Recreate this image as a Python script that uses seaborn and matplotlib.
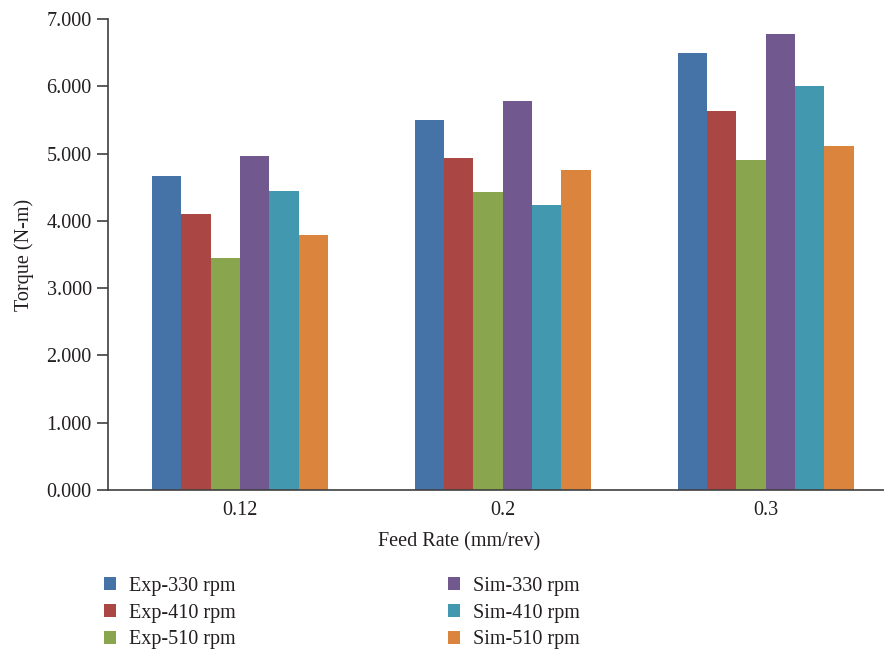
import pandas as pd
import matplotlib.pyplot as plt
import matplotlib.ticker as mticker
import seaborn as sns

feed_rates = ["0.12", "0.2", "0.3"]
series = ["Exp-330 rpm", "Exp-410 rpm", "Exp-510 rpm",
          "Sim-330 rpm", "Sim-410 rpm", "Sim-510 rpm"]
exp_330 = [4.67, 5.50, 6.49]
exp_410 = [4.10, 4.93, 5.63]
exp_510 = [3.45, 4.43, 4.90]
sim_330 = [4.96, 5.78, 6.78]
sim_410 = [4.44, 4.24, 6.00]
sim_510 = [3.79, 4.76, 5.11]
colors = ["#4572A7", "#AA4643", "#89A54E", "#71588F", "#4198AF", "#DB843D"]

values = [exp_330, exp_410, exp_510, sim_330, sim_410, sim_510]
rows = []
for name, vals in zip(series, values):
    for fr, v in zip(feed_rates, vals):
        rows.append({"feed": fr, "series": name, "torque": v})
df = pd.DataFrame(rows)

sns.set_theme(style="white")
plt.rcParams['font.family'] = ['Liberation Serif', 'DejaVu Serif']
text_col = "#231f20"

fig = plt.figure(figsize=(8.84, 6.54), dpi=100)
ax = fig.add_axes([0.1227, 0.2508, 0.892, 0.7201])
sns.barplot(data=df, x="feed", y="torque", hue="series", order=feed_rates,
            hue_order=series, palette=colors, width=0.67, gap=0,
            saturation=1, linewidth=0, ax=ax, legend=True)
ax.set_xlim(-0.5, 2.5)
ax.set_ylim(0, 7)
ax.set_yticks([0, 1, 2, 3, 4, 5, 6, 7])
ax.yaxis.set_major_formatter(mticker.FormatStrFormatter('%.3f'))
sns.despine(ax=ax)
for s in ["left", "bottom"]:
    ax.spines[s].set_color("#404040")
    ax.spines[s].set_linewidth(1.2)
ax.tick_params(axis="y", which="major", direction="out", length=8, width=1.2,
               color="#404040", labelsize=14.5, labelcolor=text_col, left=True, pad=4)
ax.tick_params(axis="x", length=0, labelsize=14.5, labelcolor=text_col, pad=8)
ax.set_xlabel("Feed Rate (mm/rev)", fontsize=14.5, color=text_col)
ax.set_ylabel("Torque (N-m)", fontsize=14.5, color=text_col)
ax.xaxis.set_label_coords(0.445, -0.09)
ax.yaxis.set_label_coords(-0.095, 0.5)

handles, labels = ax.get_legend_handles_labels()
ax.get_legend().remove()
leg_kw = dict(frameon=False, fontsize=14.5, handlelength=0.62, handleheight=0.62,
              handletextpad=0.6, labelspacing=0.38, borderpad=0, borderaxespad=0,
              labelcolor=text_col)
leg1 = fig.legend(handles[:3], labels[:3], loc="upper left",
                  bbox_to_anchor=(104 / 884, 1 - 577 / 654), **leg_kw)
leg2 = fig.legend(handles[3:], labels[3:], loc="upper left",
                  bbox_to_anchor=(448 / 884, 1 - 577 / 654), **leg_kw)

fig.savefig("out.png", dpi=100)
